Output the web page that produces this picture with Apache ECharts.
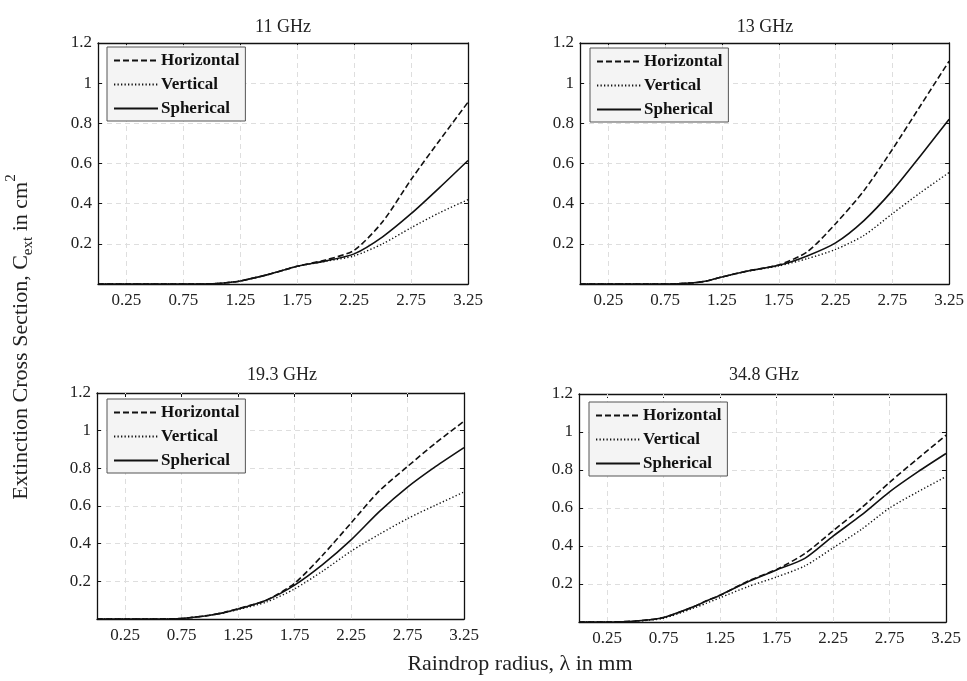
<!DOCTYPE html>
<html><head><meta charset="utf-8">
<script src="https://cdn.jsdelivr.net/npm/echarts@6/dist/echarts.min.js"></script>
<style>html,body{margin:0;padding:0;background:#fff}#c{width:967px;height:681px}</style>
</head><body><div id="c"></div>
<script>
// Raindrop radius (mm)
var radius = [0, 0.25, 0.5, 0.75, 1.0, 1.125, 1.25, 1.5, 1.75, 2.0, 2.25, 2.5, 2.75, 3.0, 3.25];
var xTicks = [0.25, 0.75, 1.25, 1.75, 2.25, 2.75, 3.25];
var panelTitles = ['11 GHz', '13 GHz', '19.3 GHz', '34.8 GHz'];
var seriesNames = ['Horizontal', 'Vertical', 'Spherical'];

// 11 GHz
var h11 = [0, 0, 0, 0, 0.001, 0.006, 0.015, 0.048, 0.088, 0.12, 0.168, 0.31, 0.52, 0.715, 0.905];
var v11 = [0, 0, 0, 0, 0.001, 0.006, 0.015, 0.048, 0.088, 0.113, 0.14, 0.2, 0.28, 0.355, 0.42];
var s11 = [0, 0, 0, 0, 0.001, 0.006, 0.015, 0.048, 0.088, 0.115, 0.15, 0.235, 0.35, 0.48, 0.615];
// 13 GHz
var h13 = [0, 0, 0, 0, 0.006, 0.016, 0.035, 0.068, 0.095, 0.16, 0.30, 0.465, 0.67, 0.89, 1.11];
var v13 = [0, 0, 0, 0, 0.006, 0.016, 0.035, 0.066, 0.09, 0.126, 0.172, 0.242, 0.35, 0.456, 0.555];
var s13 = [0, 0, 0, 0, 0.006, 0.016, 0.035, 0.067, 0.093, 0.14, 0.205, 0.316, 0.465, 0.64, 0.82];
// 19.3 GHz
var h19 = [0, 0, 0, 0.003, 0.02, 0.035, 0.055, 0.10, 0.19, 0.34, 0.51, 0.68, 0.81, 0.935, 1.05];
var v19 = [0, 0, 0, 0.003, 0.02, 0.033, 0.05, 0.09, 0.16, 0.255, 0.36, 0.45, 0.533, 0.605, 0.674];
var s19 = [0, 0, 0, 0.003, 0.02, 0.034, 0.053, 0.10, 0.18, 0.29, 0.42, 0.57, 0.70, 0.81, 0.91];
// 34.8 GHz
var h34 = [0, 0, 0.005, 0.024, 0.077, 0.11, 0.141, 0.216, 0.277, 0.36, 0.48, 0.60, 0.735, 0.86, 0.983];
var v34 = [0, 0, 0.004, 0.02, 0.07, 0.098, 0.128, 0.187, 0.237, 0.295, 0.39, 0.487, 0.6, 0.685, 0.765];
var s34 = [0, 0, 0.005, 0.024, 0.077, 0.11, 0.141, 0.213, 0.274, 0.335, 0.452, 0.562, 0.685, 0.79, 0.887];

var panels = [[h11, v11, s11], [h13, v13, s13], [h19, v19, s19], [h34, v34, s34]];

var FONT = 'Liberation Serif';
var grids = [
  {left: 98, right: 499, top: 43, height: 241},
  {left: 580, right: 17, top: 43, height: 241},
  {left: 97, right: 503, top: 393, height: 226},
  {left: 579, right: 21, top: 394, height: 228}
];
var legendPos = [
  {left: 107, top: 47}, {left: 590, top: 48}, {left: 107, top: 399}, {left: 589, top: 402}
];
var titlePos = [
  {left: 283, top: 18}, {left: 765, top: 18}, {left: 282, top: 366}, {left: 764, top: 366}
];
var styles = [
  {type: [6, 3], width: 1.6},
  {type: [1.3, 2.2], width: 1.4},
  {type: 'solid', width: 1.6}
];

function pairs(ys) { return radius.map(function (x, i) { return [x, ys[i]]; }); }

var option = {
  animation: false,
  backgroundColor: '#fff',
  textStyle: {fontFamily: FONT},
  grid: grids.map(function (g) { return Object.assign({containLabel: false}, g); }),
  title: panelTitles.map(function (t, i) {
    return {text: t, left: titlePos[i].left, top: titlePos[i].top, textAlign: 'center', padding: 0,
      textStyle: {fontFamily: FONT, fontSize: 18, fontWeight: 'normal', color: '#222'}};
  }),
  legend: panels.map(function (p, i) {
    return {
      orient: 'vertical', left: legendPos[i].left, top: legendPos[i].top,
      data: seriesNames, itemWidth: 44, itemHeight: 12, itemGap: 7,
      padding: [5, 6, 4, 6], backgroundColor: '#f4f4f4', borderColor: '#555', borderWidth: 1,
      borderRadius: 0, selectedMode: false,
      itemStyle: {opacity: 0},
      textStyle: {fontFamily: FONT, fontSize: 17, fontWeight: 'bold', color: '#111', padding: [0, 0, 0, -2]}
    };
  }),
  xAxis: [], yAxis: [], series: [], graphic: []
};

grids.forEach(function (g, i) {
  option.xAxis.push({
    type: 'value', gridIndex: i, min: 0, max: 3.25, position: 'bottom',
    axisLine: {onZero: false, lineStyle: {color: '#111', width: 1.3}},
    axisTick: {inside: true, length: 4, customValues: xTicks, lineStyle: {color: '#111'}},
    axisLabel: {customValues: xTicks, margin: 8, fontFamily: FONT, fontSize: 17, color: '#222'},
    splitLine: {show: false}
  });
  option.xAxis.push({
    type: 'value', gridIndex: i, min: 0, max: 3.25, position: 'top',
    axisLine: {onZero: false, lineStyle: {color: '#111', width: 1.3}},
    axisTick: {inside: true, length: 4, customValues: xTicks, lineStyle: {color: '#111'}},
    axisLabel: {show: false}, splitLine: {show: false}
  });
  option.yAxis.push({
    type: 'value', gridIndex: i, min: 0, max: 1.2, interval: 0.2, position: 'left',
    axisLine: {show: true, onZero: false, lineStyle: {color: '#111', width: 1.3}},
    axisTick: {show: true, inside: true, length: 4, lineStyle: {color: '#111'}},
    axisLabel: {margin: 6, fontFamily: FONT, fontSize: 17, color: '#222',
      formatter: function (v) { return v === 0 ? '' : String(Math.round(v * 10) / 10); }},
    splitLine: {show: true, lineStyle: {color: '#dedede', type: [5, 4], width: 1}}
  });
  option.yAxis.push({
    type: 'value', gridIndex: i, min: 0, max: 1.2, interval: 0.2, position: 'right',
    axisLine: {show: true, onZero: false, lineStyle: {color: '#111', width: 1.3}},
    axisTick: {show: true, inside: true, length: 4, lineStyle: {color: '#111'}},
    axisLabel: {show: false}, splitLine: {show: false}
  });
  panels[i].forEach(function (ys, k) {
    var s = {
      name: seriesNames[k], type: 'line', xAxisIndex: 2 * i, yAxisIndex: 2 * i,
      data: pairs(ys), symbol: 'none', smooth: 0.25, z: 3 + k,
      lineStyle: {color: '#111', type: styles[k].type, width: styles[k].width},
      itemStyle: {color: '#111'}
    };
    if (k === 0) {
      s.markLine = {
        silent: true, symbol: 'none', label: {show: false}, z: 1,
        lineStyle: {color: '#dedede', type: [5, 4], width: 1},
        data: xTicks.slice(0, -1).map(function (t) { return {xAxis: t}; })
      };
    }
    option.series.push(s);
  });
});

// rotated y-axis name built from segments (main / subscript / superscript)
(function () {
  var ctx = document.createElement('canvas').getContext('2d');
  var big = 22, small = 15;
  var segs = [
    {t: 'Extinction Cross Section, C', fs: big, dy: 0},
    {t: 'ext', fs: small, dy: 7},
    {t: ' in cm', fs: big, dy: 0},
    {t: '2', fs: small, dy: -10}
  ];
  var total = 0;
  segs.forEach(function (s) { ctx.font = s.fs + 'px ' + FONT; s.w = ctx.measureText(s.t).width; total += s.w; });
  var x = -total / 2, children = [];
  segs.forEach(function (s) {
    children.push({type: 'text', x: x, y: s.dy,
      style: {text: s.t, fontFamily: FONT, fontSize: s.fs, fill: '#222', align: 'left', verticalAlign: 'middle'}});
    x += s.w;
  });
  option.graphic.push({type: 'group', x: 21, y: 337, rotation: Math.PI / 2, children: children});
})();
option.graphic.push({
  type: 'text', x: 520, y: 664,
  style: {text: 'Raindrop radius, \u03bb in mm', fontFamily: FONT, fontSize: 22, fill: '#222',
    align: 'center', verticalAlign: 'middle'}
});

var chart = echarts.init(document.getElementById('c'), null, {renderer: 'canvas'});
chart.setOption(option);
</script>
</body></html>
